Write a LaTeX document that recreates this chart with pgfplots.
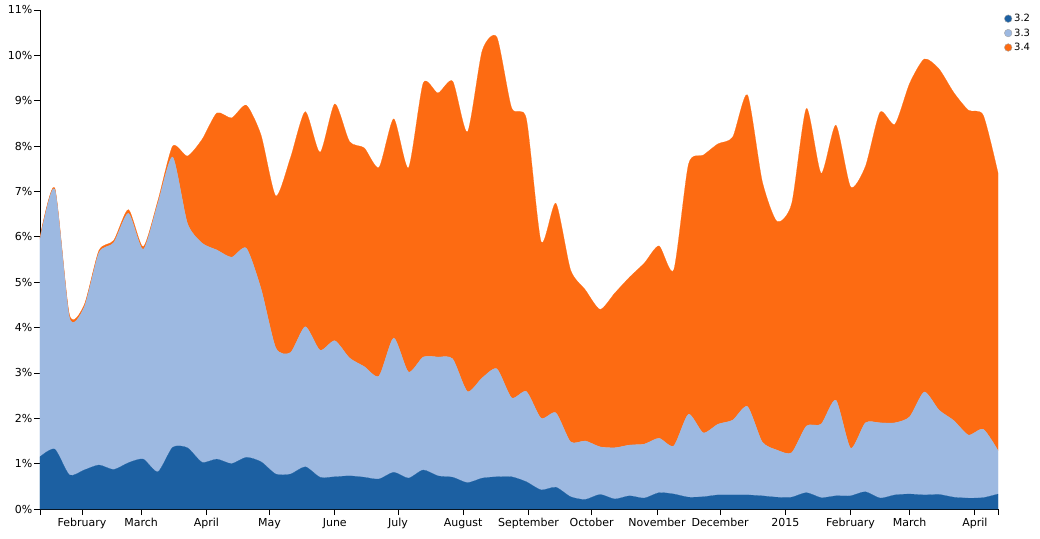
\documentclass[border=0pt]{standalone}
\usepackage{pgfplots}
\usepackage{pgfplotstable}
\pgfplotsset{compat=1.18}
\usepackage{fontspec}
\setmainfont{DejaVu Sans}
\definecolor{c32}{HTML}{1C60A2}
\definecolor{c33}{HTML}{9DB9E1}
\definecolor{c34}{HTML}{FD6B12}
\pgfplotstableread{
w a b c
0 1.15 4.80 0.05
1 1.32 5.73 0.03
2 0.75 3.47 0.06
3 0.86 3.59 0.05
4 0.97 4.68 0.05
5 0.87 5.00 0.05
6 1.02 5.50 0.08
7 1.10 4.62 0.06
8 0.82 5.92 0.06
9 1.36 6.40 0.24
10 1.35 4.95 1.48
11 1.03 4.83 2.29
12 1.10 4.61 3.02
13 1.00 4.55 3.07
14 1.14 4.61 3.15
15 1.04 3.81 3.39
16 0.77 2.78 3.35
17 0.77 2.68 4.30
18 0.93 3.09 4.74
19 0.70 2.80 4.36
20 0.71 3.00 5.22
21 0.73 2.60 4.77
22 0.70 2.44 4.82
23 0.66 2.27 4.60
24 0.81 2.96 4.83
25 0.68 2.34 4.50
26 0.86 2.49 6.04
27 0.73 2.62 5.82
28 0.70 2.61 6.12
29 0.58 2.01 5.72
30 0.68 2.21 7.21
31 0.71 2.38 7.31
32 0.71 1.74 6.39
33 0.60 1.99 6.01
34 0.42 1.58 3.89
35 0.48 1.64 4.62
36 0.27 1.21 3.79
37 0.21 1.29 3.33
38 0.32 1.05 3.03
39 0.22 1.13 3.41
40 0.29 1.12 3.70
41 0.24 1.19 3.99
42 0.36 1.20 4.24
43 0.33 1.06 3.88
44 0.26 1.83 5.51
45 0.27 1.41 6.12
46 0.31 1.56 6.18
47 0.31 1.65 6.24
48 0.31 1.95 6.87
49 0.29 1.19 5.75
50 0.26 1.04 5.04
51 0.26 0.98 5.49
52 0.36 1.47 7.00
53 0.25 1.62 5.53
54 0.29 2.11 6.06
55 0.29 1.05 5.76
56 0.38 1.52 5.65
57 0.24 1.66 6.85
58 0.31 1.59 6.58
59 0.33 1.70 7.35
60 0.31 2.27 7.34
61 0.32 1.86 7.52
62 0.26 1.69 7.23
63 0.24 1.39 7.16
64 0.25 1.51 6.92
65 0.33 0.96 6.12
}\data
\begin{document}
\begin{tikzpicture}
\path[use as bounding box] (-40pt,-29pt) rectangle (1000pt,509pt);
\begin{axis}[
  scale only axis, width=958pt, height=499pt,
  xmin=0, xmax=65, ymin=0, ymax=11,
  axis x line=bottom, axis y line=left,
  axis line style={-, black, line width=0.8pt},
  tick align=outside, major tick length=6pt,
  tick style={black, line width=0.8pt},
  ytick={0,1,...,11},
  yticklabel={\pgfmathprintnumber{\tick}\%},
  xtick={2.857,6.857,11.286,15.571,20,24.286,28.714,33.143,37.429,41.857,46.143,50.571,55,59,63.429},
  xticklabels={February,March,April,May,June,July,August,September,October,November,December,2015,February,March,April},
  extra x ticks={0,65}, extra x tick labels={,},
  /pgf/number format/assume math mode=true,
  ticklabel style={font=\fontsize{11}{13}\selectfont, text=black},
  yticklabel style={inner sep=1.5pt},
  xticklabel style={inner sep=3pt},
  stack plots=y,
  legend style={at={(rel axis cs:1,1)}, anchor=north west, xshift=6pt, yshift=-2pt,
    draw=none, fill=none, font=\fontsize{10}{12}\selectfont, row sep=1.5pt, inner sep=0pt},
  legend cell align=left,
  legend image code/.code={\draw[#1,draw=black!35,line width=0.4pt] (3pt,0pt) circle (3.8pt);},
]
\addplot[fill=c32, draw=c32, line width=0.2pt, smooth, tension=0.4] table[x=w,y=a]{\data} \closedcycle;
\addlegendentry{3.2}
\addplot[fill=c33, draw=c33, line width=0.2pt, smooth, tension=0.4] table[x=w,y=b]{\data} \closedcycle;
\addlegendentry{3.3}
\addplot[fill=c34, draw=c34, line width=0.2pt, smooth, tension=0.4] table[x=w,y=c]{\data} \closedcycle;
\addlegendentry{3.4}
\end{axis}
\end{tikzpicture}
\end{document}
